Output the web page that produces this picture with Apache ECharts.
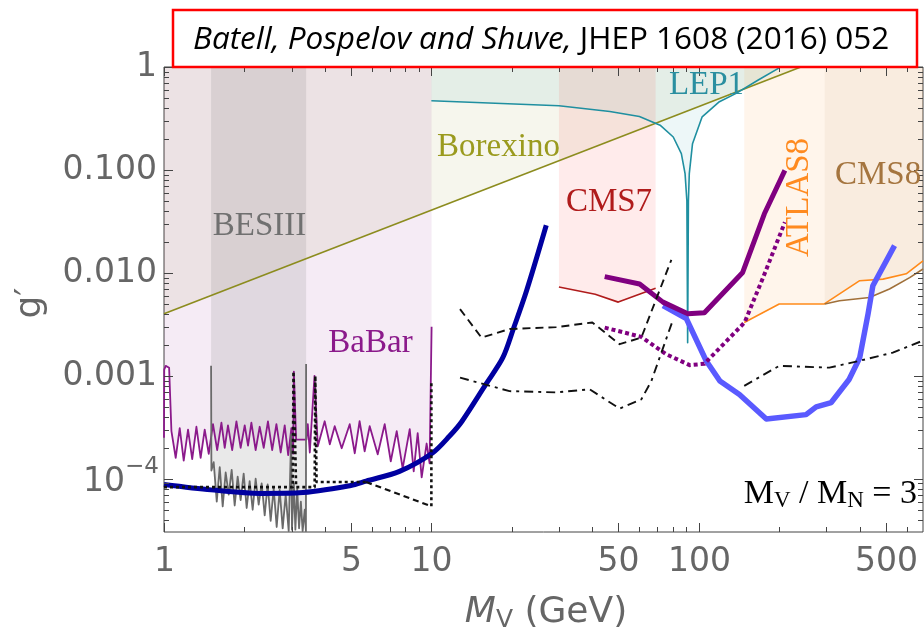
<!DOCTYPE html>
<html><head><meta charset="utf-8">
<script src="https://cdn.jsdelivr.net/npm/echarts@6/dist/echarts.min.js"></script>
<style>html,body{margin:0;padding:0;background:#fff}#c{width:924px;height:639px}</style>
</head><body><div id="c"></div>
<script>
// ---------------- axis ranges & ticks ----------------
const X_MIN = 1, X_MAX = 690, Y_MIN = 3.04e-5, Y_MAX = 1;
const xTickMajor = [1, 5, 10, 50, 100, 500];
const xTickLabels = ['1', '5', '10', '50', '100', '500'];
const xTickMinor = [2, 3, 4, 6, 7, 8, 9, 20, 30, 40, 60, 70, 80, 90, 200, 300, 400, 600];
const yTickMajor = [1, 0.1, 0.01, 0.001, 1e-4];
const yTickLabels = ['1', '0.100', '0.010', '0.001', '10'];
const yTickSup = ['', '', '', '', '\u22124'];
const yTickMinor = [4e-5, 5e-5, 6e-5, 7e-5, 8e-5, 9e-5,
  2e-4, 3e-4, 4e-4, 5e-4, 6e-4, 7e-4, 8e-4, 9e-4,
  2e-3, 3e-3, 4e-3, 5e-3, 6e-3, 7e-3, 8e-3, 9e-3,
  0.02, 0.03, 0.04, 0.05, 0.06, 0.07, 0.08, 0.09,
  0.2, 0.3, 0.4, 0.5, 0.6, 0.7, 0.8, 0.9];

// ---------------- data (M_V in GeV, g') ----------------
const borexino = [[1, 0.004], [241, 1.0]];
const lep1 = [[10, 0.47], [30, 0.42], [46.5, 0.37], [60, 0.33], [71.7, 0.272], [80.3, 0.209], [86.1, 0.144],
  [88.9, 0.092], [90.3, 0.05], [90.9, 0.0021], [91.5, 0.05], [92.2, 0.092], [94.8, 0.18], [103, 0.328],
  [119.5, 0.46], [138, 0.554], [167, 0.747], [200, 0.98]];
const cms7 = [[30, 7.3e-3], [41, 6.2e-3], [50, 5.2e-3], [69, 7.1e-3]];
const atlas8 = [[148, 3.3e-3], [200, 4.98e-3], [294, 4.98e-3], [400, 8.4e-3], [489, 8.7e-3], [597, 9.8e-3], [690, 0.0131]];
const cms8 = [[296, 4.98e-3], [336, 5.36e-3], [435, 5.77e-3], [517, 6.97e-3], [615, 9.0e-3], [690, 0.0109]];
const babar = [[1.000, 2.5e-4], [1.002, 1.15e-3], [1.015, 1.25e-3], [1.045, 1.2e-3], [1.066, 2.9e-4],
  [1.106, 1.6e-4], [1.145, 3.1e-4], [1.185, 1.5e-4], [1.230, 3.0e-4], [1.275, 1.55e-4], [1.322, 3.2e-4],
  [1.371, 1.6e-4], [1.420, 3.0e-4], [1.470, 1.75e-4], [1.525, 3.4e-4], [1.581, 1.9e-4], [1.640, 3.5e-4],
  [1.687, 2.0e-4], [1.735, 3.3e-4], [1.799, 1.9e-4], [1.866, 3.6e-4], [1.935, 2.0e-4], [2.004, 3.3e-4],
  [2.062, 2.1e-4], [2.122, 3.5e-4], [2.202, 1.9e-4], [2.280, 3.2e-4], [2.360, 2.0e-4], [2.448, 3.6e-4],
  [2.539, 1.9e-4], [2.633, 3.4e-4], [2.732, 1.8e-4], [2.828, 3.3e-4], [2.914, 1.7e-4], [2.995, 3.1e-4],
  [3.040, 1.75e-4], [3.060, 1.1e-3], [3.120, 2.4e-4], [3.410, 2.4e-4], [3.450, 3.4e-4], [3.510, 1.8e-4],
  [3.655, 1.0e-3], [3.670, 1.0e-3], [3.760, 2.07e-4], [3.990, 3.62e-4], [4.170, 2.16e-4], [4.350, 3.24e-4],
  [4.620, 1.98e-4], [4.950, 3.39e-4], [5.170, 1.77e-4], [5.390, 3.62e-4], [5.630, 1.85e-4], [5.880, 3.24e-4],
  [6.300, 1.73e-4], [6.690, 3.39e-4], [7.050, 1.48e-4], [7.420, 2.9e-4], [7.810, 1.26e-4], [8.300, 3.03e-4],
  [8.590, 1.18e-4], [8.890, 2.77e-4], [9.200, 1.03e-4], [9.600, 2.2e-4], [9.850, 1.41e-4], [10.02, 3.0e-3]];
const besiii = [[1.500, 1.25e-3], [1.504, 1.2e-4], [1.534, 1.45e-4], [1.575, 6.0e-5], [1.616, 1.3e-4],
  [1.658, 5.4e-5], [1.701, 1.15e-4], [1.746, 7.0e-5], [1.791, 1.22e-4], [1.838, 5.5e-5], [1.886, 1.05e-4],
  [1.935, 6.2e-5], [1.986, 1.12e-4], [2.038, 5.2e-5], [2.091, 9.5e-5], [2.146, 5.0e-5], [2.202, 1.0e-4],
  [2.260, 5.6e-5], [2.319, 9.0e-5], [2.380, 4.4e-5], [2.442, 8.8e-5], [2.506, 3.9e-5], [2.572, 8.0e-5],
  [2.639, 3.4e-5], [2.708, 7.8e-5], [2.779, 3.3e-5], [2.852, 7.0e-5], [2.927, 3.1e-5], [2.990, 2.7e-4],
  [3.010, 3.2e-5], [3.060, 9.0e-5], [3.100, 3.2e-5], [3.150, 8.0e-5], [3.200, 3.3e-5], [3.250, 6.0e-5],
  [3.300, 3.1e-5], [3.360, 5.0e-5], [3.395, 3.1e-5], [3.400, 1.3e-3]];
const darkBlue = [[1, 8.8e-5], [1.5, 7.8e-5], [2.3, 7.2e-5], [3.2, 7.3e-5], [5, 8.6e-5], [5.7, 9.5e-5],
  [7.6, 1.18e-4], [10.1, 1.78e-4], [11.7, 2.6e-4], [13, 3.6e-4], [16, 8.3e-4], [18.5, 1.5e-3],
  [20.3, 2.9e-3], [22.7, 6.7e-3], [26.9, 0.029]];
const lightBlue = [[73.5, 4.8e-3], [89.9, 3.6e-3], [106.6, 1.4e-3], [120, 8.9e-4], [142, 6.6e-4], [179, 3.8e-4],
  [252, 4.2e-4], [275, 5.0e-4], [313, 5.5e-4], [365, 9.2e-4], [400, 1.5e-3], [430, 4.0e-3], [448, 7.5e-3], [540, 0.0184]];
const purpleSolid = [[44.5, 9.2e-3], [60.1, 7.8e-3], [73.5, 5.2e-3], [91, 4.0e-3], [105, 4.1e-3], [146, 0.0101],
  [176, 0.0375], [210, 0.099]];
const purpleDotted = [[44.5, 2.94e-3], [61, 2.39e-3], [75.6, 1.62e-3], [92.5, 1.27e-3], [105, 1.31e-3],
  [148.5, 3.3e-3], [174, 9.0e-3], [210, 0.031]];
const blackDashed = [[12.8, 4.45e-3], [15.4, 2.35e-3], [19.6, 2.85e-3], [29.3, 2.97e-3], [40, 3.3e-3],
  [50.6, 2.03e-3], [61, 2.35e-3], [79, 0.0134]];
const blackDashDot1 = [[12.8, 9.6e-4], [19.6, 7.1e-4], [29.3, 6.9e-4], [39.1, 7.4e-4], [50.6, 4.8e-4],
  [61, 5.9e-4], [66.5, 8.9e-4], [80.1, 3.5e-3]];
const blackDashDot2 = [[148, 8.0e-4], [200, 1.25e-3], [308, 1.2e-3], [400, 1.4e-3], [532, 1.68e-3], [690, 2.2e-3]];
const blackDotted = [[1, 8.3e-5], [3.03, 8.3e-5], [3.05, 1.1e-3], [3.12, 8.3e-5], [3.66, 8.3e-5],
  [3.68, 1.0e-3], [3.72, 9.3e-5], [5.7, 9.3e-5]];
const blackDashedLow = [[5.7, 9.3e-5], [10, 5.4e-5]];
const blackDottedEnd = [[10, 5.4e-5], [10, 8.9e-4]];

// ---------------- helpers ----------------
function topFill(curve) {
  return [[curve[0][0], Y_MAX]].concat(curve, [[curve[curve.length - 1][0], Y_MAX]]);
}
function fillSeries(poly, color) {
  return {
    type: 'custom', coordinateSystem: 'cartesian2d', data: [[X_MIN, Y_MAX]], z: 1, silent: true, clip: true,
    animation: false,
    renderItem: function (params, api) {
      return { type: 'polygon', shape: { points: poly.map(p => api.coord(p)) }, style: { fill: color, stroke: null } };
    }
  };
}
function lineS(data, color, width, type, z, smooth) {
  return {
    type: 'line', data: data, showSymbol: false, symbol: 'none', smooth: smooth || false, z: z || 3,
    silent: true, animation: false, clip: true,
    lineStyle: { color: color, width: width, type: type || 'solid', cap: 'butt', join: 'round' },
    emphasis: { disabled: true }
  };
}
const FRAME = '#444';
const ticksSeries = {
  type: 'custom', coordinateSystem: 'cartesian2d', data: [[X_MIN, Y_MAX]], z: 10, silent: true, clip: false,
  animation: false,
  renderItem: function (params, api) {
    const ch = [];
    const p0 = api.coord([X_MIN, Y_MIN]), p1 = api.coord([X_MAX, Y_MAX]);
    const xl = p0[0], yb = p0[1], xr = p1[0], yt = p1[1];
    const ln = (x1, y1, x2, y2) => ch.push({ type: 'line', shape: { x1: x1, y1: y1, x2: x2, y2: y2 }, style: { stroke: FRAME, lineWidth: 1 } });
    xTickMajor.forEach((v, i) => {
      const x = Math.round(api.coord([v, Y_MIN])[0]) + 0.5;
      ln(x, yb, x, yb - 9); ln(x, yt, x, yt + 9);
      ch.push({ type: 'text', x: x, y: yb + 30, style: { text: xTickLabels[i], font: '33px "DejaVu Sans"', fill: '#666', align: 'center', verticalAlign: 'middle' } });
    });
    xTickMinor.forEach(v => {
      const x = Math.round(api.coord([v, Y_MIN])[0]) + 0.5;
      ln(x, yb, x, yb - 5); ln(x, yt, x, yt + 5);
    });
    yTickMajor.forEach((v, i) => {
      const y = Math.round(api.coord([X_MIN, v])[1]) + 0.5;
      ln(xl, y, xl + 9, y); ln(xr, y, xr - 9, y);
      if (yTickSup[i]) {
        ch.push({ type: 'text', x: xl - 39, y: y + 3, style: { text: yTickLabels[i], font: '33px "DejaVu Sans"', fill: '#666', align: 'right', verticalAlign: 'middle' } });
        ch.push({ type: 'text', x: xl - 39, y: y - 12, style: { text: yTickSup[i], font: '23px "DejaVu Sans"', fill: '#666', align: 'left', verticalAlign: 'middle' } });
      } else {
        ch.push({ type: 'text', x: xl - 7, y: y, style: { text: yTickLabels[i], font: '33px "DejaVu Sans"', fill: '#666', align: 'right', verticalAlign: 'middle' } });
      }
    });
    yTickMinor.forEach(v => {
      const y = Math.round(api.coord([X_MIN, v])[1]) + 0.5;
      ln(xl, y, xl + 5, y); ln(xr, y, xr - 5, y);
    });
    return { type: 'group', children: ch };
  }
};

const SERIF = '"Liberation Serif", "DejaVu Serif", serif';
const chart = echarts.init(document.getElementById('c'), null, { renderer: 'canvas' });
chart.setOption({
  animation: false,
  backgroundColor: '#fff',
  grid: { left: 164, right: 1, top: 67, bottom: 107, show: true, borderColor: FRAME, borderWidth: 1, backgroundColor: 'rgba(0,0,0,0)', containLabel: false },
  xAxis: { type: 'log', logBase: 10, min: X_MIN, max: X_MAX, axisLine: { show: false }, axisTick: { show: false }, axisLabel: { show: false }, splitLine: { show: false }, minorTick: { show: false } },
  yAxis: { type: 'log', logBase: 10, min: Y_MIN, max: Y_MAX, axisLine: { show: false }, axisTick: { show: false }, axisLabel: { show: false }, splitLine: { show: false }, minorTick: { show: false } },
  series: [
    fillSeries(topFill(borexino), 'rgba(128,128,0,0.07)'),
    fillSeries(topFill(babar), 'rgba(128,0,128,0.08)'),
    fillSeries(topFill(besiii), 'rgba(120,120,120,0.16)'),
    fillSeries(topFill(lep1), 'rgba(0,139,150,0.07)'),
    fillSeries(topFill(cms7), 'rgba(255,0,0,0.08)'),
    fillSeries(topFill(atlas8), 'rgba(255,127,0,0.08)'),
    fillSeries(topFill(cms8), 'rgba(160,100,40,0.06)'),
    lineS(borexino, '#8c8c1e', 1.6),
    lineS(lep1, '#1f8fa0', 1.6),
    lineS(cms7, '#b01c1c', 1.6),
    lineS(atlas8, '#ff8a1a', 1.6),
    lineS(cms8, '#a0703a', 1.6),
    lineS(babar, '#8b1a8b', 1.8),
    lineS(besiii, '#6a6a6a', 1.8),
    lineS(darkBlue, '#0000a0', 5, 'solid', 4, 0.3),
    lineS(lightBlue, '#5a5aff', 5.5, 'solid', 4),
    lineS(purpleSolid, '#800080', 5, 'solid', 4),
    lineS(purpleDotted, '#800080', 4, [4, 3], 4),
    lineS(blackDashed, '#111', 1.9, [8, 5], 5),
    lineS(blackDashDot1, '#111', 1.9, [9, 5, 3, 5], 5),
    lineS(blackDashDot2, '#111', 1.9, [9, 5, 3, 5], 5),
    lineS(blackDotted, '#111', 2.6, [3, 3], 5),
    lineS(blackDashedLow, '#111', 2.2, [6, 4], 5),
    lineS(blackDottedEnd, '#111', 2.6, [3, 3], 5),
    ticksSeries
  ],
  graphic: [
    { type: 'rect', shape: { x: 173, y: 10, width: 744, height: 57 }, style: { fill: '#fff', stroke: '#ff0000', lineWidth: 2.5 }, z: 100 },
    { type: 'text', x: 193, y: 40, z: 101, style: { text: '{i|Batell, Pospelov and Shuve,} {n|JHEP 1608 (2016) 052}', verticalAlign: 'middle', align: 'left',
        rich: { i: { font: 'italic 31.5px "Open Sans"', fill: '#000' }, n: { font: '31.5px "Open Sans"', fill: '#000' } }, font: '31.5px "Open Sans"' } },
    { type: 'text', x: 259.5, y: 226, z: 50, style: { text: 'BESIII', font: '33px ' + SERIF, fill: '#707070', align: 'center', verticalAlign: 'middle' } },
    { type: 'text', x: 498.5, y: 147, z: 50, style: { text: 'Borexino', font: '33px ' + SERIF, fill: '#9a9a1e', align: 'center', verticalAlign: 'middle' } },
    { type: 'text', x: 706.5, y: 85, z: 50, style: { text: 'LEP1', font: '33px ' + SERIF, fill: '#2a8fa0', align: 'center', verticalAlign: 'middle' } },
    { type: 'text', x: 609, y: 202, z: 50, style: { text: 'CMS7', font: '33px ' + SERIF, fill: '#b01c1c', align: 'center', verticalAlign: 'middle' } },
    { type: 'text', x: 799, y: 197.5, rotation: Math.PI / 2, z: 50, style: { text: 'ATLAS8', font: '33px ' + SERIF, fill: '#ff8a1f', align: 'center', verticalAlign: 'middle' } },
    { type: 'text', x: 835, y: 175, z: 50, style: { text: 'CMS8', font: '33px ' + SERIF, fill: '#a5753f', align: 'left', verticalAlign: 'middle' } },
    { type: 'text', x: 370.5, y: 343, z: 50, style: { text: 'BaBar', font: '33px ' + SERIF, fill: '#8b1a8b', align: 'center', verticalAlign: 'middle' } },
    { type: 'text', x: 917, y: 494, z: 50, style: { text: '{m|M}{s|V}{m| / M}{s|N}{m| = 3}', align: 'right', verticalAlign: 'middle',
        rich: { m: { font: '34px ' + SERIF, fill: '#000' }, s: { font: '23px ' + SERIF, fill: '#000', padding: [13, 0, 0, 0] } } } },
    { type: 'text', x: 546, y: 613, z: 50, style: { text: '{m|M}{s|V}{n| (GeV)}', align: 'center', verticalAlign: 'middle',
        rich: { m: { font: 'italic 36px "DejaVu Sans"', fill: '#666' }, s: { font: '25px "DejaVu Sans"', fill: '#666', padding: [14, 0, 0, 0] }, n: { font: '36px "DejaVu Sans"', fill: '#666' } } } },
    { type: 'text', x: 31, y: 303, rotation: Math.PI / 2, z: 50, style: { text: 'g\u2032', font: '36px "DejaVu Sans"', fill: '#666', align: 'center', verticalAlign: 'middle' } }
  ]
});
</script></body></html>
